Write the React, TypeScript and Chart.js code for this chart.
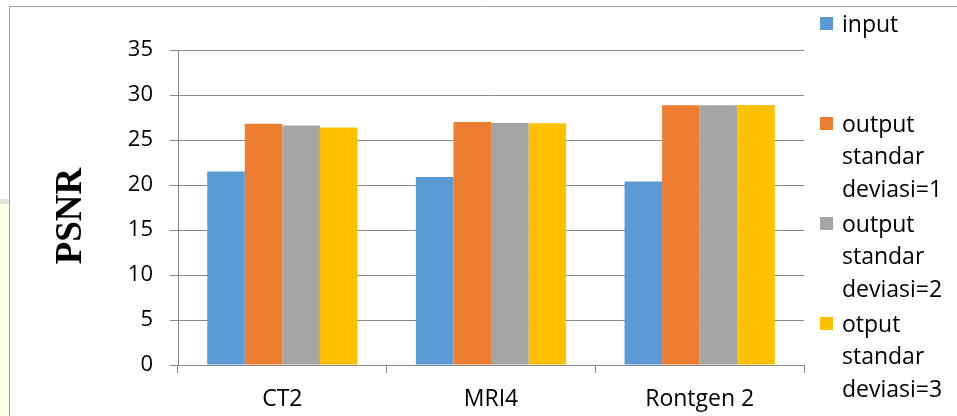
import React, { useEffect, useRef } from "react";
import { Chart, registerables } from "chart.js";

Chart.register(...registerables);

const categories = ["CT2", "MRI4", "Rontgen 2"];
const inputValues = [21.5, 20.9, 20.4];
const outputSd1Values = [26.8, 27.0, 28.85];
const outputSd2Values = [26.6, 26.9, 28.85];
const outputSd3Values = [26.4, 26.85, 28.9];
const seriesLines = [
  ["input"],
  ["output", "standar", "deviasi=1"],
  ["output", "standar", "deviasi=2"],
  ["otput", "standar", "deviasi=3"],
];
const seriesColors = ["#5B9BD5", "#ED7D31", "#A5A5A5", "#FFC000"];
const yMin = 0;
const yMax = 35;
const yStep = 5;
const yTitle = "PSNR";

const FONT = "'Open Sans', sans-serif";

export default function App() {
  const ref = useRef<HTMLCanvasElement | null>(null);

  useEffect(() => {
    document.body.style.margin = "0";
    const canvas = ref.current;
    if (!canvas) return;

    const framePlugin = {
      id: "frame",
      beforeDraw(chart: any) {
        const ctx = chart.ctx;
        ctx.save();
        ctx.fillStyle = "#ffffff";
        ctx.fillRect(0, 0, chart.width, chart.height);
        ctx.fillStyle = "#FDFCE4";
        ctx.fillRect(0, 202, 10, chart.height - 202);
        ctx.fillStyle = "#E4E4DC";
        ctx.fillRect(0, 199, 10, 5);
        ctx.strokeStyle = "#A0A0A0";
        ctx.lineWidth = 1;
        ctx.beginPath();
        ctx.moveTo(9.5, chart.height);
        ctx.lineTo(9.5, 6.5);
        ctx.lineTo(chart.width, 6.5);
        ctx.stroke();
        ctx.restore();
      },
    };

    const legendPlugin = {
      id: "sideLegend",
      afterDraw(chart: any) {
        const ctx = chart.ctx;
        ctx.save();
        // y-axis title
        ctx.save();
        ctx.translate(71, 216);
        ctx.rotate(-Math.PI / 2);
        ctx.font = "bold 37px 'Liberation Serif', serif";
        ctx.fillStyle = "#000";
        ctx.textAlign = "center";
        ctx.textBaseline = "middle";
        ctx.fillText(yTitle, 0, 0);
        ctx.restore();
        // legend
        ctx.font = `23px ${FONT}`;
        ctx.textBaseline = "middle";
        ctx.textAlign = "left";
        chart.data.datasets.forEach((ds: any, i: number) => {
          const y0 = 24 + i * 100;
          ctx.fillStyle = ds.backgroundColor;
          ctx.fillRect(820, y0 - 7, 13, 13);
          ctx.fillStyle = "#000";
          seriesLines[i].forEach((line, j) => {
            ctx.fillText(line, 842, y0 + j * 32.5 + 1);
          });
        });
        ctx.restore();
      },
    };

    const seriesValues = [inputValues, outputSd1Values, outputSd2Values, outputSd3Values];

    const chart = new Chart(canvas, {
      type: "bar",
      data: {
        labels: categories,
        datasets: seriesValues.map((vals, i) => ({
          label: seriesLines[i].join(" "),
          data: vals,
          backgroundColor: seriesColors[i],
          borderWidth: 0,
          categoryPercentage: 0.72,
          barPercentage: 1,
        })),
      },
      options: {
        responsive: false,
        animation: false,
        layout: { padding: { left: 0, top: 50, right: 153, bottom: 0 } },
        plugins: {
          legend: { display: false },
          tooltip: { enabled: false },
          title: { display: false },
        },
        scales: {
          x: {
            afterFit: (scale: any) => {
              scale.height = 51;
            },
            grid: {
              display: true,
              drawOnChartArea: false,
              drawTicks: true,
              tickLength: 8,
              color: "#898989",
              offset: true,
            },
            border: { display: true, color: "#898989", width: 1 },
            ticks: {
              color: "#000",
              font: { family: FONT, size: 23 },
              padding: 13,
              maxRotation: 0,
            },
          },
          y: {
            min: yMin,
            max: yMax,
            afterFit: (scale: any) => {
              scale.width = 178;
            },
            grid: {
              color: "#898989",
              drawTicks: true,
              tickLength: 8,
            },
            border: { display: true, color: "#898989", width: 1 },
            ticks: {
              stepSize: yStep,
              color: "#000",
              font: { family: FONT, size: 22 },
              padding: 17,
            },
          },
        },
      },
      plugins: [framePlugin, legendPlugin],
    });

    return () => chart.destroy();
  }, []);

  return (
    <canvas
      ref={ref}
      width={957}
      height={416}
      style={{ display: "block", width: 957, height: 416 }}
    />
  );
}
